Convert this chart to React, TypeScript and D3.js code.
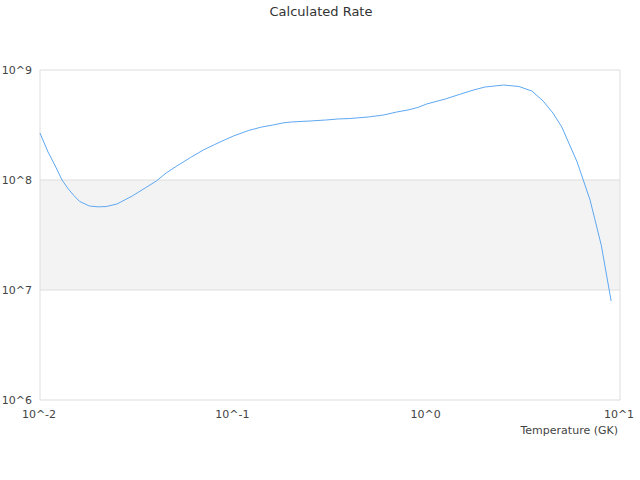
import * as d3 from "d3";

const WIDTH = 640;
const HEIGHT = 480;
const MARGIN = { top: 70, right: 20, bottom: 80, left: 40 };

// temperature in GK
const temps = [
  0.01, 0.011, 0.012, 0.013, 0.014, 0.015, 0.016, 0.018, 0.02, 0.022, 0.025,
  0.03, 0.035, 0.04, 0.045, 0.05, 0.06, 0.07, 0.08, 0.09, 0.1, 0.12, 0.14,
  0.16, 0.18, 0.2, 0.25, 0.3, 0.35, 0.4, 0.5, 0.6, 0.7, 0.8, 0.9, 1.0, 1.25,
  1.5, 1.75, 2.0, 2.5, 3.0, 3.5, 4.0, 4.5, 5, 6, 7, 8, 9,
];

// calculated rate
const rates = [
  2.67e8, 1.8e8, 1.34e8, 1.0e8, 8.3e7, 7.2e7, 6.4e7, 5.8e7, 5.7e7, 5.74e7,
  6.05e7, 7.15e7, 8.46e7, 9.8e7, 1.16e8, 1.31e8, 1.6e8, 1.875e8, 2.1e8,
  2.31e8, 2.51e8, 2.82e8, 3.03e8, 3.16e8, 3.3e8, 3.37e8, 3.44e8, 3.51e8,
  3.59e8, 3.62e8, 3.74e8, 3.9e8, 4.15e8, 4.33e8, 4.56e8, 4.91e8, 5.45e8,
  6.05e8, 6.58e8, 7.0e8, 7.3e8, 7.08e8, 6.44e8, 5.23e8, 4.06e8, 3.03e8,
  1.46e8, 6.58e7, 2.56e7, 7.94e6,
];

const xTicks = [0.01, 0.1, 1, 10];
const xTickLabels = ["10^-2", "10^-1", "10^0", "10^1"];
const yTicks = [1e6, 1e7, 1e8, 1e9];
const yTickLabels = ["10^6", "10^7", "10^8", "10^9"];

const FONT = "'DejaVu Sans', sans-serif";

export default function App() {
  const x = d3
    .scaleLog()
    .domain([0.01, 10])
    .range([MARGIN.left, WIDTH - MARGIN.right]);
  const y = d3
    .scaleLog()
    .domain([1e6, 1e9])
    .range([HEIGHT - MARGIN.bottom, MARGIN.top]);

  const points = temps.map((t, i) => ({ t, r: rates[i] }));
  const line = d3
    .line<{ t: number; r: number }>()
    .x((d) => x(d.t))
    .y((d) => y(d.r));

  const x0 = x.range()[0];
  const x1 = x.range()[1];

  return (
    <svg
      width={WIDTH}
      height={HEIGHT}
      style={{ position: "absolute", left: 0, top: 0, background: "#fff" }}
      fontFamily={FONT}
    >
      <rect
        x={x0}
        y={y(1e8)}
        width={x1 - x0}
        height={y(1e7) - y(1e8)}
        fill="#f3f3f3"
      />
      {yTicks.map((v) => (
        <line
          key={v}
          x1={x0}
          x2={x1}
          y1={y(v)}
          y2={y(v)}
          stroke="#dddddd"
          strokeWidth={1}
        />
      ))}
      <line x1={x0} x2={x0} y1={y(1e9)} y2={y(1e6)} stroke="#dddddd" />
      <line x1={x1} x2={x1} y1={y(1e9)} y2={y(1e6)} stroke="#dddddd" />
      <path
        d={line(points) ?? ""}
        fill="none"
        stroke="#5ea8f2"
        strokeWidth={1}
      />
      {yTicks.map((v, i) => (
        <text
          key={v}
          x={x0 - 8}
          y={y(v)}
          dy="0.32em"
          textAnchor="end"
          fontSize={11}
          fill="#444"
        >
          {yTickLabels[i]}
        </text>
      ))}
      {xTicks.map((v, i) => (
        <text
          key={v}
          x={x(v) - 1}
          y={418}
          textAnchor="middle"
          fontSize={11}
          fill="#444"
        >
          {xTickLabels[i]}
        </text>
      ))}
      <text x={x1 - 2} y={434} textAnchor="end" fontSize={11} fill="#444">
        Temperature (GK)
      </text>
      <text
        x={WIDTH / 2 + 1}
        y={16}
        textAnchor="middle"
        fontSize={13}
        fill="#333"
      >
        Calculated Rate
      </text>
    </svg>
  );
}
